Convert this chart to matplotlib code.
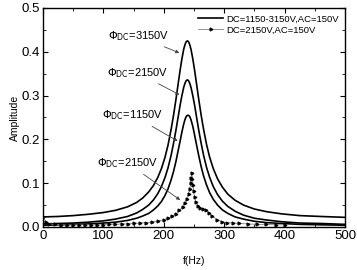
import numpy as np
import matplotlib
matplotlib.use('Agg')
import matplotlib.pyplot as plt
from matplotlib.ticker import MultipleLocator, FormatStrFormatter

plt.rcParams['font.family'] = ['Liberation Sans', 'DejaVu Sans']

# frequency grid (Hz)
freq = [0, 25, 50, 75, 100, 120, 140, 155, 165, 175,
        183, 190, 196, 202, 207, 212, 216, 220, 224, 227,
        230, 233, 235, 237, 239, 241, 243, 245, 248, 251,
        254, 258, 262, 266, 271, 276, 282, 289, 297, 306,
        318, 332, 350, 370, 395, 425, 460, 500]

amp_3150 = [0.023, 0.024, 0.026, 0.029, 0.033, 0.038, 0.046, 0.056, 0.066, 0.080,
            0.095, 0.113, 0.133, 0.159, 0.187, 0.222, 0.254, 0.290, 0.329, 0.358,
            0.384, 0.406, 0.416, 0.423, 0.425, 0.423, 0.416, 0.406, 0.384, 0.358,
            0.329, 0.290, 0.254, 0.222, 0.187, 0.159, 0.133, 0.110, 0.091, 0.075,
            0.061, 0.050, 0.041, 0.035, 0.030, 0.026, 0.024, 0.022]
amp_2150 = [0.007, 0.008, 0.009, 0.011, 0.014, 0.018, 0.024, 0.032, 0.040, 0.050,
            0.062, 0.076, 0.092, 0.113, 0.135, 0.163, 0.190, 0.220, 0.253, 0.278,
            0.300, 0.319, 0.328, 0.334, 0.336, 0.334, 0.328, 0.319, 0.300, 0.278,
            0.253, 0.220, 0.190, 0.163, 0.135, 0.113, 0.092, 0.074, 0.059, 0.047,
            0.036, 0.027, 0.020, 0.016, 0.012, 0.009, 0.008, 0.006]
amp_1150 = [0.004, 0.005, 0.006, 0.007, 0.009, 0.011, 0.015, 0.020, 0.025, 0.031,
            0.039, 0.048, 0.058, 0.072, 0.087, 0.107, 0.126, 0.149, 0.176, 0.196,
            0.217, 0.235, 0.245, 0.252, 0.255, 0.255, 0.252, 0.245, 0.230, 0.210,
            0.189, 0.162, 0.137, 0.116, 0.095, 0.078, 0.063, 0.050, 0.039, 0.031,
            0.023, 0.018, 0.013, 0.010, 0.008, 0.006, 0.005, 0.004]

# measured series DC=2150V, AC=150V
freq_meas = [0, 5, 10, 20, 30, 40, 50, 60, 70, 80,
             90, 100, 110, 120, 130, 140, 150, 160, 170, 180,
             190, 200, 207, 214, 220, 226, 231, 235, 238, 241,
             243, 244.5, 245.5, 246.5, 247.5, 248.5, 249.5, 251, 253, 256,
             260, 265, 270, 275, 280, 288, 296, 305, 315, 325,
             340, 355, 370, 385, 400]
amp_meas = [0.022, 0.012, 0.007, 0.006, 0.005, 0.005, 0.005, 0.005, 0.005, 0.005,
            0.005, 0.005, 0.006, 0.006, 0.007, 0.007, 0.008, 0.009, 0.010, 0.011,
            0.013, 0.017, 0.020, 0.025, 0.030, 0.038, 0.046, 0.055, 0.063, 0.075,
            0.086, 0.100, 0.112, 0.124, 0.110, 0.095, 0.082, 0.068, 0.057, 0.049,
            0.044, 0.041, 0.038, 0.031, 0.025, 0.017, 0.012, 0.010, 0.009, 0.008,
            0.007, 0.006, 0.006, 0.005, 0.005]

fig = plt.figure(figsize=(3.57, 2.70), dpi=100)
ax = fig.add_axes([0.1204, 0.1593, 0.846, 0.8111])

ax.plot(freq, amp_3150, color='black', lw=1.2, label='DC=1150-3150V,AC=150V')
ax.plot(freq, amp_2150, color='black', lw=1.2)
ax.plot(freq, amp_1150, color='black', lw=1.2)
ax.plot(freq_meas, amp_meas, color='#808080', lw=0.6, marker='>', ms=2.0,
        mfc='black', mec='black', label='DC=2150V,AC=150V')

ax.set_xlim(0, 500)
ax.set_ylim(0, 0.5)
ax.xaxis.set_major_locator(MultipleLocator(100))
ax.xaxis.set_minor_locator(MultipleLocator(50))
ax.yaxis.set_major_locator(MultipleLocator(0.1))
ax.yaxis.set_minor_locator(MultipleLocator(0.05))
ax.yaxis.set_major_formatter(FormatStrFormatter('%.1f'))
ax.tick_params(which='both', direction='in', top=True, right=True, labelsize=9.5, pad=2)
ax.tick_params(which='major', length=3.5)
ax.tick_params(which='minor', length=2)
for s in ax.spines.values():
    s.set_linewidth(1.0)

ax.set_xlabel('f(Hz)', fontsize=7.5, labelpad=10)
ax.set_ylabel('Amplitude', fontsize=7.5, labelpad=1)

arrow = dict(arrowstyle='-|>', color='#444444', lw=0.6, mutation_scale=5)
ax.annotate(r'$\Phi_{\mathrm{DC}}$=3150V', xy=(230, 0.395), xytext=(107, 0.436),
            fontsize=8, arrowprops=arrow, va='center')
ax.annotate(r'$\Phi_{\mathrm{DC}}$=2150V', xy=(230, 0.299), xytext=(106, 0.352),
            fontsize=8, arrowprops=arrow, va='center')
ax.annotate(r'$\Phi_{\mathrm{DC}}$=1150V', xy=(227, 0.193), xytext=(98, 0.255),
            fontsize=8, arrowprops=arrow, va='center')
ax.annotate(r'$\Phi_{\mathrm{DC}}$=2150V', xy=(231, 0.058), xytext=(89, 0.146),
            fontsize=8, arrowprops=arrow, va='center')

ax.legend(loc='upper right', frameon=False, fontsize=6.8, handlelength=2.6,
          handletextpad=0.3, labelspacing=0.2, borderaxespad=0.3)

fig.savefig('out.png', dpi=100)
